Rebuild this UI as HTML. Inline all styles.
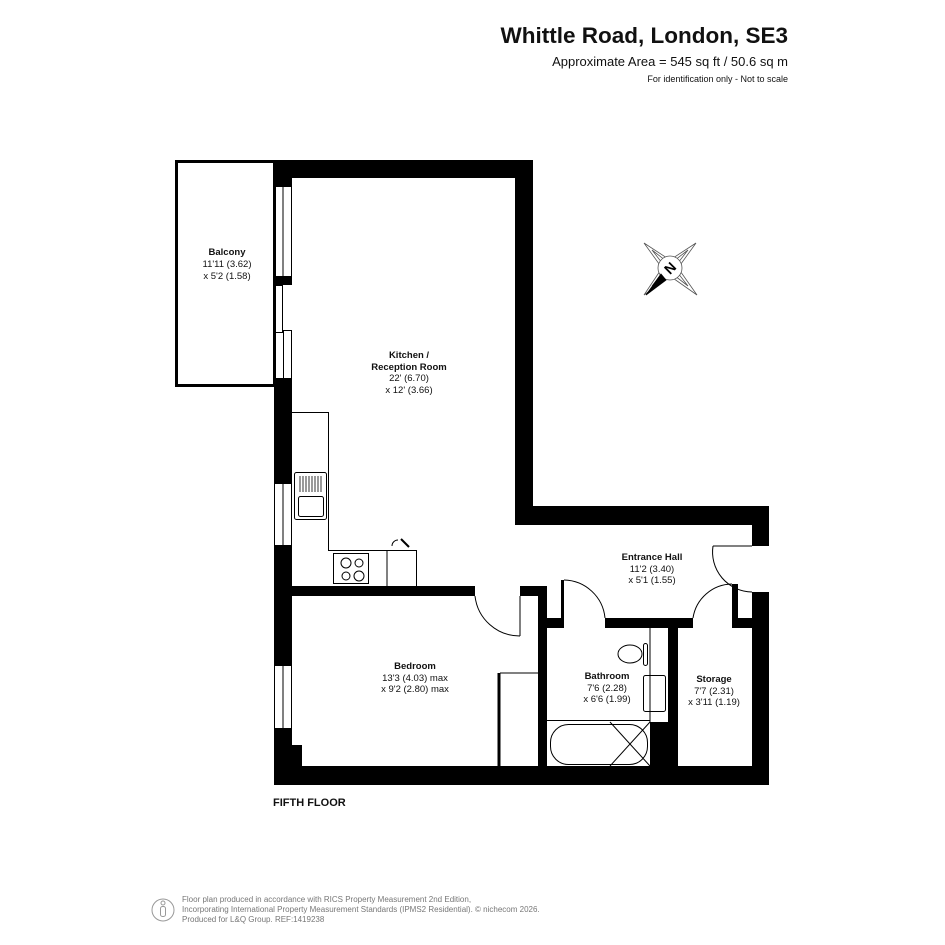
<!DOCTYPE html>
<html><head><meta charset="utf-8"><style>
body{margin:0;background:#fff;width:945px;height:945px;overflow:hidden}
svg{display:block}
text{font-family:"Liberation Sans",Arial,sans-serif}
</style></head><body>
<svg width="945" height="945" viewBox="0 0 945 945" xmlns="http://www.w3.org/2000/svg">
<text x="788" y="43" text-anchor="end" font-size="22.5" font-weight="bold" fill="#111">Whittle Road, London, SE3</text>
<text x="788" y="66" text-anchor="end" font-size="13" fill="#111">Approximate Area = 545 sq ft / 50.6 sq m</text>
<text x="788" y="82" text-anchor="end" font-size="9" fill="#111">For identification only - Not to scale</text>

<rect x="176.5" y="161.5" width="98" height="224" fill="none" stroke="#000" stroke-width="3"/>

<g fill="#000">
<rect x="274" y="160" width="259" height="18"/>
<rect x="515" y="160" width="18" height="364"/>
<rect x="515" y="506" width="254" height="19"/>
<rect x="752" y="506" width="17" height="40"/>
<rect x="752" y="592" width="17" height="193"/>
<rect x="274" y="160" width="18" height="26"/>
<rect x="274" y="276" width="18" height="9"/>
<rect x="274" y="378" width="18" height="105"/>
<rect x="274" y="545" width="18" height="120"/>
<rect x="274" y="728" width="18" height="57"/>
<rect x="292" y="745" width="10" height="21"/>
<rect x="274" y="766" width="495" height="19"/>
<rect x="292" y="586" width="183" height="10"/>
<rect x="520" y="586" width="27" height="10"/>
<rect x="538" y="596" width="9" height="170"/>
<rect x="547" y="618" width="16" height="10"/>
<rect x="561" y="580" width="3" height="48"/>
<rect x="605" y="618" width="88" height="10"/>
<rect x="732" y="618" width="20" height="10"/>
<rect x="732" y="584" width="6" height="44"/>
<rect x="668" y="628" width="10" height="138"/>
<rect x="650" y="722" width="18" height="44"/>
</g>

<g fill="none" stroke="#000" stroke-width="1">
<rect x="274.5" y="186.5" width="17" height="90"/>
<line x1="283" y1="186" x2="283" y2="276"/>
<rect x="274.5" y="285.5" width="8" height="47"/>
<rect x="283.5" y="330.5" width="8" height="48"/>
<rect x="274.5" y="483.5" width="17" height="62"/>
<line x1="283" y1="483" x2="283" y2="545"/>
<rect x="274.5" y="665.5" width="17" height="63"/>
<line x1="283" y1="665" x2="283" y2="728"/>
<polyline points="292,412.5 328.5,412.5 328.5,550.5 416.5,550.5 416.5,586"/>
<line x1="387" y1="550" x2="387" y2="586"/>
<rect x="333.5" y="553.5" width="35" height="30"/>
<circle cx="346" cy="563" r="5"/><circle cx="359" cy="563" r="4"/>
<circle cx="346" cy="576" r="4"/><circle cx="359" cy="576" r="5"/>
<rect x="294.5" y="472.5" width="32" height="47" rx="2"/>
<rect x="298.5" y="496.5" width="25" height="20" rx="2"/>
<path d="M392 546 A6 6 0 0 1 398 540"/>
<path d="M475 596 A45 45 0 0 0 520 636"/><line x1="520" y1="596" x2="520" y2="636"/>
<path d="M564 580 A42 42 0 0 1 605 618"/>
<path d="M732 584 A40 40 0 0 0 693 618"/>
<path d="M713 546 A40 40 0 0 0 752 592"/><line x1="713" y1="546" x2="752" y2="546"/>
<line x1="500" y1="673" x2="538" y2="673"/>
<line x1="499" y1="673" x2="499" y2="766" stroke-width="3"/>
<line x1="650" y1="628" x2="650" y2="722"/>
<line x1="547" y1="720.5" x2="650" y2="720.5"/>
<rect x="550.5" y="724.5" width="97" height="40" rx="18"/>
<line x1="610" y1="722" x2="650" y2="766"/><line x1="650" y1="722" x2="610" y2="766"/>
<ellipse cx="630" cy="654" rx="12" ry="9"/>
<rect x="643.5" y="643.5" width="4" height="22" rx="2"/>
<rect x="643.5" y="675.5" width="22" height="36" rx="2"/>
</g>
<line x1="401" y1="539" x2="409" y2="547" stroke="#000" stroke-width="2"/>
<g stroke="#000" stroke-width="0.8">
<line x1="300" y1="476" x2="300" y2="492"/><line x1="303" y1="476" x2="303" y2="492"/><line x1="306" y1="476" x2="306" y2="492"/><line x1="309" y1="476" x2="309" y2="492"/><line x1="312" y1="476" x2="312" y2="492"/><line x1="315" y1="476" x2="315" y2="492"/><line x1="318" y1="476" x2="318" y2="492"/><line x1="321" y1="476" x2="321" y2="492"/>
</g>

<g transform="translate(670,268)" fill="none" stroke="#555" stroke-width="0.8">
<polygon points="-26,-25 0,-8 26,-25 8,0 27,27 0,8 -26,27 -8,0"/>
<polygon points="-18,-18 0,-4 18,-18 4,0 18,18 0,4 -18,18 -4,0"/>
<circle r="12" fill="#fff"/>
<polygon points="-9,6 -24,27 -4,12" fill="#000" stroke="#000"/>
<text x="0" y="5" text-anchor="middle" font-size="14" font-weight="bold" fill="#000" stroke="none" transform="rotate(-45)">N</text>
</g>

<g font-size="9.5" fill="#111" text-anchor="middle">
<text x="227" y="255" font-weight="bold">Balcony</text>
<text x="227" y="267">11'11 (3.62)</text>
<text x="227" y="279">x 5'2 (1.58)</text>
<text x="409" y="358" font-weight="bold">Kitchen /</text>
<text x="409" y="370" font-weight="bold">Reception Room</text>
<text x="409" y="381">22' (6.70)</text>
<text x="409" y="393">x 12' (3.66)</text>
<text x="652" y="560" font-weight="bold">Entrance Hall</text>
<text x="652" y="572">11'2 (3.40)</text>
<text x="652" y="583">x 5'1 (1.55)</text>
<text x="415" y="669" font-weight="bold">Bedroom</text>
<text x="415" y="681">13'3 (4.03) max</text>
<text x="415" y="692">x 9'2 (2.80) max</text>
<text x="607" y="679" font-weight="bold">Bathroom</text>
<text x="607" y="691">7'6 (2.28)</text>
<text x="607" y="702">x 6'6 (1.99)</text>
<text x="714" y="682" font-weight="bold">Storage</text>
<text x="714" y="694">7'7 (2.31)</text>
<text x="714" y="705">x 3'11 (1.19)</text>
</g>
<text x="273" y="806" font-size="11" font-weight="bold" fill="#111">FIFTH FLOOR</text>

<circle cx="163" cy="910" r="11" fill="none" stroke="#999" stroke-width="1"/>
<circle cx="163" cy="903" r="2" fill="none" stroke="#999"/>
<rect x="160.5" y="906.5" width="5" height="10" rx="2" fill="none" stroke="#999"/>
<g font-size="8" fill="#777">
<text x="182" y="902">Floor plan produced in accordance with RICS Property Measurement 2nd Edition,</text>
<text x="182" y="912">Incorporating International Property Measurement Standards (IPMS2 Residential).   © nichecom 2026.</text>
<text x="182" y="922">Produced for L&amp;Q Group.   REF:1419238</text>
</g>
</svg>
</body></html>
